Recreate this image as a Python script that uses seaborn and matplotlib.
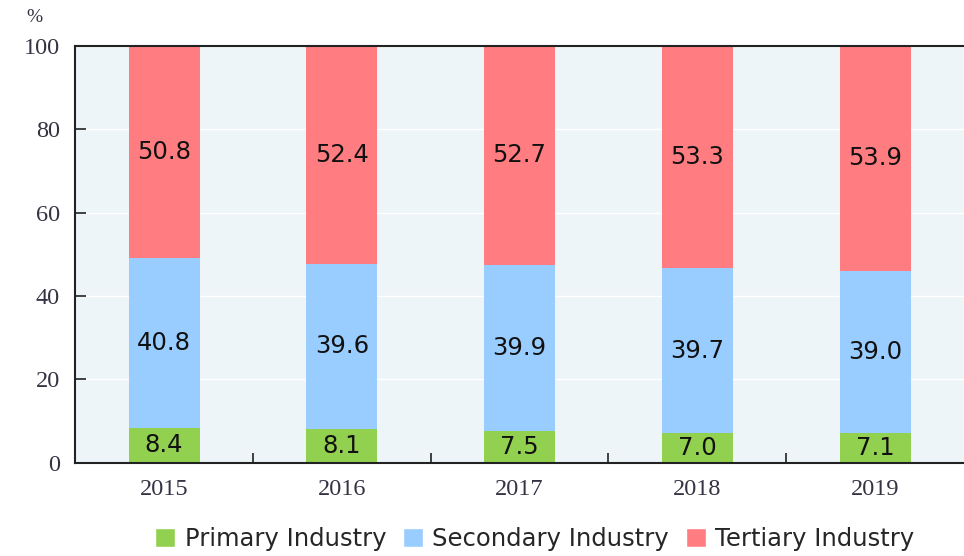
import matplotlib
matplotlib.use("Agg")
import matplotlib.pyplot as plt
from matplotlib.patches import Patch
import pandas as pd
import seaborn as sns

years = ["2015", "2016", "2017", "2018", "2019"]
primary = [8.4, 8.1, 7.5, 7.0, 7.1]
secondary = [40.8, 39.6, 39.9, 39.7, 39.0]
tertiary = [50.8, 52.4, 52.7, 53.3, 53.9]
series_names = ["Primary Industry", "Secondary Industry", "Tertiary Industry"]
colors = ["#92D050", "#99CCFF", "#FF7C80"]

df = pd.DataFrame({"year": years, "Primary Industry": primary,
                   "Secondary Industry": secondary, "Tertiary Industry": tertiary})
# cumulative tops for stacking
cum = df[series_names].cumsum(axis=1)

sns.set_style("white")
fig, ax = plt.subplots(figsize=(9.64, 5.56), dpi=100)
fig.subplots_adjust(left=0.078, right=1.0, top=0.917, bottom=0.168)
ax.set_facecolor("#EDF5F8")

# draw tallest first so shorter stacks sit on top
for name, col in reversed(list(zip(series_names, colors))):
    sns.barplot(data=cum.assign(year=years), x="year", y=name, color=col,
                width=0.4, saturation=1, linewidth=0, ax=ax, zorder=2)

for i in range(len(years)):
    base = 0.0
    for name in series_names:
        v = df[name][i]
        ax.text(i, base + v / 2, f"{v:.1f}", ha="center", va="center",
                fontsize=17.5, color="#111111", family="DejaVu Sans", zorder=3)
        base += v

ax.set_xlim(-0.5, len(years) - 0.5)
ax.set_ylim(0, 100)
ax.set_yticks([0, 20, 40, 60, 80, 100])
ax.set_xlabel("")
ax.set_ylabel("")
ax.set_xticks([i + 0.5 for i in range(len(years) - 1)], minor=True)
ax.tick_params(axis="x", which="major", bottom=False, length=0, pad=12)
ax.tick_params(axis="x", which="minor", bottom=True, direction="in", length=7,
               width=1.2, color="#222222")
ax.tick_params(axis="y", left=True, direction="in", length=8, width=1.2,
               color="#222222", pad=11)
for lab in ax.get_xticklabels() + ax.get_yticklabels():
    lab.set_family("Liberation Serif")
    lab.set_fontsize(17.5)
    lab.set_color("#333344")

ax.grid(axis="y", color="white", linewidth=1.0, zorder=1)
ax.set_axisbelow(True)
for s in ["left", "bottom", "top"]:
    ax.spines[s].set_color("#222222")
    ax.spines[s].set_linewidth(1.5)
ax.spines["right"].set_visible(False)

fig.text(0.036, 0.968, "%", fontsize=14, family="Liberation Serif", color="#333344",
         ha="center", va="center")

handles = [Patch(facecolor=c, label=n) for n, c in zip(series_names, colors)]
fig.legend(handles=handles, loc="lower center", bbox_to_anchor=(0.555, -0.03), ncol=3,
           frameon=False, fontsize=17.5, handlelength=0.8, handleheight=0.8,
           handletextpad=0.4, columnspacing=0.7)

fig.savefig("out.png", dpi=100)
